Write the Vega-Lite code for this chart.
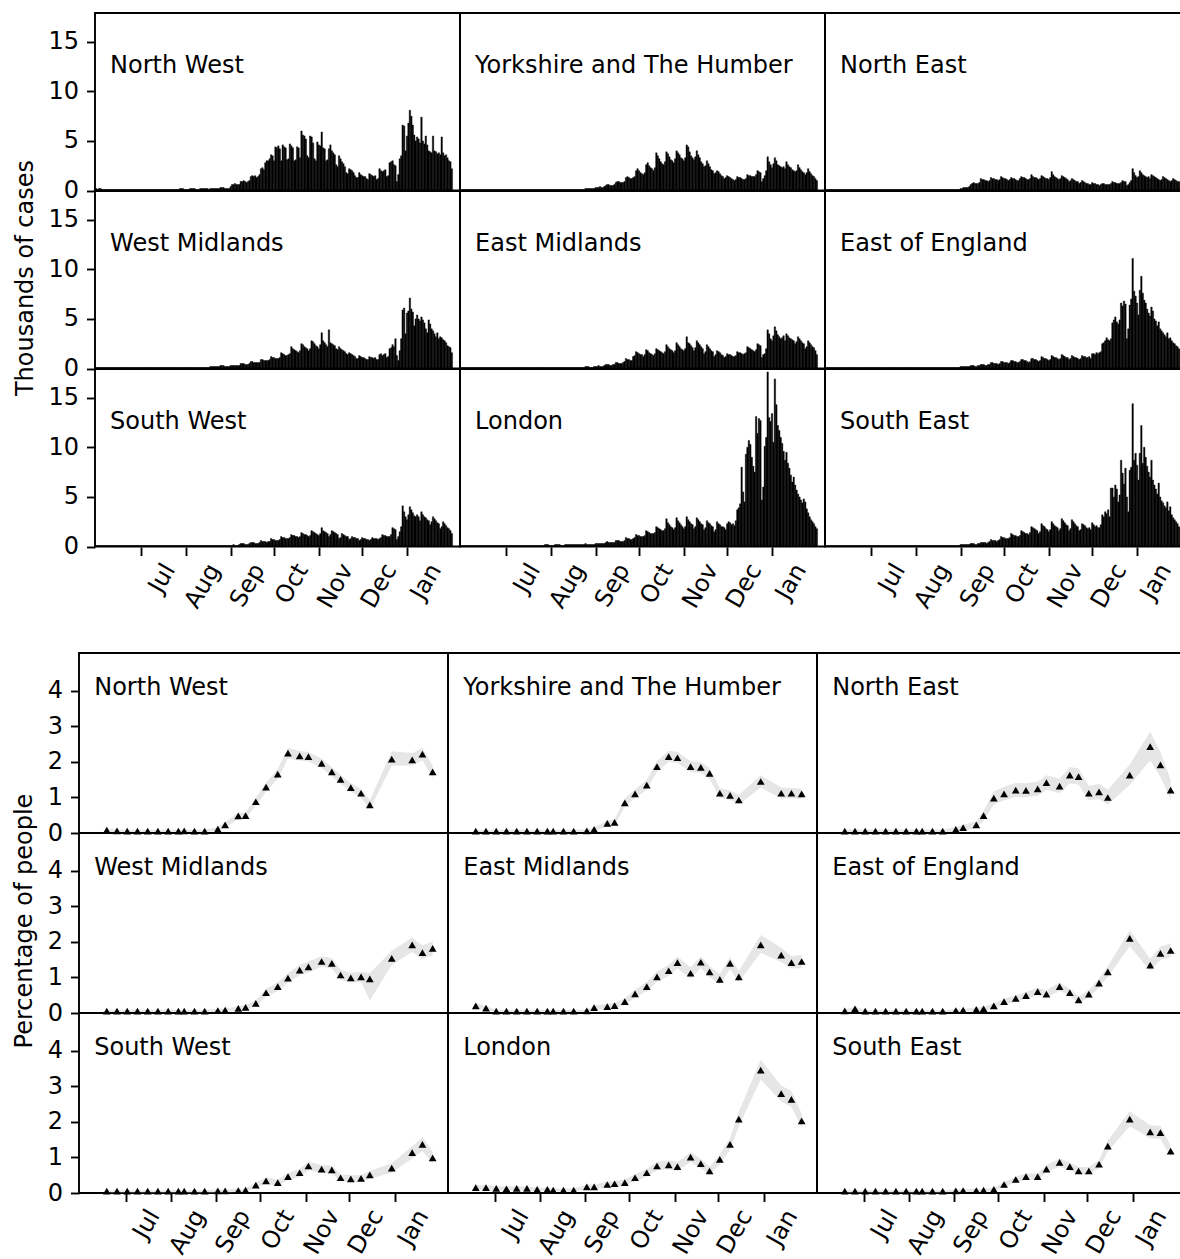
{
"$schema":"https://vega.github.io/schema/vega-lite/v6.json",
"background":"white",
"padding":{"left":12,"top":12,"right":0,"bottom":0},
"spacing":39,
"config":{"font":"DejaVu Sans","view":{"stroke":"black","strokeWidth":1.9},
"axis":{"grid":false,"domain":false,"tickColor":"black","tickWidth":1.9,"tickSize":8.5,"labelFontSize":24,"labelColor":"black","titleFontSize":24,"titleFontWeight":"normal","titleColor":"black","labelFont":"DejaVu Sans","titleFont":"DejaVu Sans"},
"axisX":{"labelAngle":-60,"labelAlign":"right","labelBaseline":"middle","labelOffset":28,"labelPadding":10,"labelFlush":false,"labelOverlap":false,"labelBound":false},
"axisY":{"labelPadding":8,"labelFlush":false,"labelOverlap":false},
"headerFacet":{"labelExpr":"''","labelPadding":0,"labelFontSize":0,"title":null},
"title":{"fontSize":24,"fontWeight":"normal","color":"black","font":"DejaVu Sans"}},
"datasets":{
"names":[{"code":"a","name":"North West"},{"code":"b","name":"Yorkshire and The Humber"},{"code":"c","name":"North East"},{"code":"e","name":"West Midlands"},{"code":"f","name":"East Midlands"},{"code":"g","name":"East of England"},{"code":"h","name":"South West"},{"code":"i","name":"London"},{"code":"j","name":"South East"}],
"cases":[
{"d":"2020-05-30","a":0.2,"b":0.1,"c":0.1,"e":0.1,"f":0.1,"g":0.1,"h":0.1,"i":0.1,"j":0.1},
{"d":"2020-05-31","a":0.1,"b":0.1,"c":0.1,"e":0.1,"f":0.1,"g":0.1,"h":0.1,"i":0.1,"j":0.1},
{"d":"2020-06-01","a":0.2,"b":0.1,"c":0.1,"e":0.1,"f":0.1,"g":0.1,"h":0.1,"i":0.1,"j":0.1},
{"d":"2020-06-02","a":0.2,"b":0.1,"c":0.1,"e":0.1,"f":0.1,"g":0.1,"h":0.1,"i":0.1,"j":0.1},
{"d":"2020-06-03","a":0.1,"b":0.1,"c":0.1,"e":0.1,"f":0.1,"g":0.1,"h":0.1,"i":0.1,"j":0.1},
{"d":"2020-06-04","a":0.1,"b":0.1,"c":0.1,"e":0.1,"f":0.1,"g":0.1,"h":0.1,"i":0.1,"j":0.1},
{"d":"2020-06-05","a":0.1,"b":0.1,"c":0.1,"e":0.1,"f":0.1,"g":0.1,"h":0.1,"i":0.1,"j":0.1},
{"d":"2020-06-06","a":0.1,"b":0.1,"c":0.1,"e":0.1,"f":0.1,"g":0.1,"h":0.1,"i":0.1,"j":0.1},
{"d":"2020-06-07","a":0.1,"b":0.1,"c":0.1,"e":0.1,"f":0.1,"g":0.1,"h":0.1,"i":0.1,"j":0.1},
{"d":"2020-06-08","a":0.1,"b":0.1,"c":0.1,"e":0.1,"f":0.1,"g":0.1,"h":0.1,"i":0.1,"j":0.1},
{"d":"2020-06-09","a":0.1,"b":0.1,"c":0.1,"e":0.1,"f":0.1,"g":0.1,"h":0.1,"i":0.1,"j":0.1},
{"d":"2020-06-10","a":0.1,"b":0.1,"c":0.1,"e":0.1,"f":0.1,"g":0.1,"h":0.1,"i":0.1,"j":0.1},
{"d":"2020-06-11","a":0.1,"b":0.1,"c":0.1,"e":0.1,"f":0.1,"g":0.1,"h":0.1,"i":0.1,"j":0.1},
{"d":"2020-06-12","a":0.1,"b":0.1,"c":0.1,"e":0.1,"f":0.1,"g":0.1,"h":0.1,"i":0.1,"j":0.1},
{"d":"2020-06-13","a":0.1,"b":0.1,"c":0.1,"e":0.1,"f":0.1,"g":0.1,"h":0.1,"i":0.1,"j":0.1},
{"d":"2020-06-14","a":0.1,"b":0.1,"c":0.1,"e":0.1,"f":0.1,"g":0.1,"h":0.1,"i":0.1,"j":0.1},
{"d":"2020-06-15","a":0.1,"b":0.1,"c":0.1,"e":0.1,"f":0.1,"g":0.1,"h":0.1,"i":0.1,"j":0.1},
{"d":"2020-06-16","a":0.1,"b":0.1,"c":0.1,"e":0.1,"f":0.1,"g":0.1,"h":0.1,"i":0.1,"j":0.1},
{"d":"2020-06-17","a":0.1,"b":0.1,"c":0.1,"e":0.1,"f":0.1,"g":0.1,"h":0.1,"i":0.1,"j":0.1},
{"d":"2020-06-18","a":0.1,"b":0.1,"c":0.1,"e":0.1,"f":0.1,"g":0.1,"h":0.1,"i":0.1,"j":0.1},
{"d":"2020-06-19","a":0.1,"b":0.1,"c":0.1,"e":0.1,"f":0.1,"g":0.1,"h":0.1,"i":0.1,"j":0.1},
{"d":"2020-06-20","a":0.1,"b":0.1,"c":0.1,"e":0.1,"f":0.1,"g":0.1,"h":0.1,"i":0.1,"j":0.1},
{"d":"2020-06-21","a":0.1,"b":0.1,"c":0.1,"e":0.1,"f":0.1,"g":0.1,"h":0.1,"i":0.1,"j":0.1},
{"d":"2020-06-22","a":0.1,"b":0.1,"c":0.1,"e":0.1,"f":0.1,"g":0.1,"h":0.1,"i":0.1,"j":0.1},
{"d":"2020-06-23","a":0.1,"b":0.1,"c":0.1,"e":0.1,"f":0.1,"g":0.1,"h":0.1,"i":0.1,"j":0.1},
{"d":"2020-06-24","a":0.1,"b":0.1,"c":0.1,"e":0.1,"f":0.1,"g":0.1,"h":0.1,"i":0.1,"j":0.1},
{"d":"2020-06-25","a":0.1,"b":0.1,"c":0.1,"e":0.1,"f":0.1,"g":0.1,"h":0.1,"i":0.1,"j":0.1},
{"d":"2020-06-26","a":0.1,"b":0.1,"c":0.1,"e":0.1,"f":0.1,"g":0.1,"h":0.1,"i":0.1,"j":0.1},
{"d":"2020-06-27","a":0.1,"b":0.1,"c":0.1,"e":0.1,"f":0.1,"g":0.1,"h":0.1,"i":0.1,"j":0.1},
{"d":"2020-06-28","a":0.1,"b":0.1,"c":0.1,"e":0.1,"f":0.1,"g":0.1,"h":0.1,"i":0.1,"j":0.1},
{"d":"2020-06-29","a":0.1,"b":0.1,"c":0.1,"e":0.1,"f":0.1,"g":0.1,"h":0.1,"i":0.1,"j":0.1},
{"d":"2020-06-30","a":0.1,"b":0.1,"c":0.1,"e":0.1,"f":0.1,"g":0.1,"h":0.1,"i":0.1,"j":0.1},
{"d":"2020-07-01","a":0.1,"b":0.1,"c":0.1,"e":0.1,"f":0.1,"g":0.1,"h":0.1,"i":0.1,"j":0.1},
{"d":"2020-07-02","a":0.1,"b":0.1,"c":0.1,"e":0.1,"f":0.1,"g":0.1,"h":0.1,"i":0.1,"j":0.1},
{"d":"2020-07-03","a":0.1,"b":0.1,"c":0.1,"e":0.1,"f":0.1,"g":0.1,"h":0.1,"i":0.1,"j":0.1},
{"d":"2020-07-04","a":0.1,"b":0.1,"c":0.1,"e":0.1,"f":0.1,"g":0.1,"h":0.1,"i":0.1,"j":0.1},
{"d":"2020-07-05","a":0.1,"b":0.1,"c":0.1,"e":0.1,"f":0.1,"g":0.1,"h":0.1,"i":0.1,"j":0.1},
{"d":"2020-07-06","a":0.1,"b":0.1,"c":0.1,"e":0.1,"f":0.1,"g":0.1,"h":0.1,"i":0.1,"j":0.1},
{"d":"2020-07-07","a":0.1,"b":0.1,"c":0.1,"e":0.1,"f":0.1,"g":0.1,"h":0.1,"i":0.1,"j":0.1},
{"d":"2020-07-08","a":0.1,"b":0.1,"c":0.1,"e":0.1,"f":0.1,"g":0.1,"h":0.1,"i":0.1,"j":0.1},
{"d":"2020-07-09","a":0.1,"b":0.1,"c":0.1,"e":0.1,"f":0.1,"g":0.1,"h":0.1,"i":0.1,"j":0.1},
{"d":"2020-07-10","a":0.1,"b":0.1,"c":0.1,"e":0.1,"f":0.1,"g":0.1,"h":0.1,"i":0.1,"j":0.1},
{"d":"2020-07-11","a":0.1,"b":0.1,"c":0.1,"e":0.1,"f":0.1,"g":0.1,"h":0.1,"i":0.1,"j":0.1},
{"d":"2020-07-12","a":0.1,"b":0.1,"c":0.1,"e":0.1,"f":0.1,"g":0.1,"h":0.1,"i":0.1,"j":0.1},
{"d":"2020-07-13","a":0.1,"b":0.1,"c":0.1,"e":0.1,"f":0.1,"g":0.1,"h":0.1,"i":0.1,"j":0.1},
{"d":"2020-07-14","a":0.1,"b":0.1,"c":0.1,"e":0.1,"f":0.1,"g":0.1,"h":0.1,"i":0.1,"j":0.1},
{"d":"2020-07-15","a":0.1,"b":0.1,"c":0.1,"e":0.1,"f":0.1,"g":0.1,"h":0.1,"i":0.1,"j":0.1},
{"d":"2020-07-16","a":0.1,"b":0.1,"c":0.1,"e":0.1,"f":0.1,"g":0.1,"h":0.1,"i":0.1,"j":0.1},
{"d":"2020-07-17","a":0.1,"b":0.1,"c":0.1,"e":0.1,"f":0.1,"g":0.1,"h":0.1,"i":0.1,"j":0.1},
{"d":"2020-07-18","a":0.1,"b":0.1,"c":0.1,"e":0.1,"f":0.1,"g":0.1,"h":0.1,"i":0.1,"j":0.1},
{"d":"2020-07-19","a":0.1,"b":0.1,"c":0.1,"e":0.1,"f":0.1,"g":0.1,"h":0.1,"i":0.1,"j":0.1},
{"d":"2020-07-20","a":0.1,"b":0.1,"c":0.1,"e":0.1,"f":0.1,"g":0.1,"h":0.1,"i":0.1,"j":0.1},
{"d":"2020-07-21","a":0.1,"b":0.1,"c":0.1,"e":0.1,"f":0.1,"g":0.1,"h":0.1,"i":0.1,"j":0.1},
{"d":"2020-07-22","a":0.1,"b":0.1,"c":0.1,"e":0.1,"f":0.1,"g":0.1,"h":0.1,"i":0.1,"j":0.1},
{"d":"2020-07-23","a":0.1,"b":0.1,"c":0.1,"e":0.1,"f":0.1,"g":0.1,"h":0.1,"i":0.1,"j":0.1},
{"d":"2020-07-24","a":0.1,"b":0.1,"c":0.1,"e":0.1,"f":0.1,"g":0.1,"h":0.1,"i":0.1,"j":0.1},
{"d":"2020-07-25","a":0.1,"b":0.1,"c":0.1,"e":0.1,"f":0.1,"g":0.1,"h":0.1,"i":0.1,"j":0.1},
{"d":"2020-07-26","a":0.1,"b":0.1,"c":0.1,"e":0.1,"f":0.1,"g":0.1,"h":0.1,"i":0.1,"j":0.1},
{"d":"2020-07-27","a":0.2,"b":0.1,"c":0.1,"e":0.1,"f":0.1,"g":0.1,"h":0.1,"i":0.2,"j":0.1},
{"d":"2020-07-28","a":0.2,"b":0.1,"c":0.1,"e":0.1,"f":0.1,"g":0.1,"h":0.1,"i":0.2,"j":0.1},
{"d":"2020-07-29","a":0.2,"b":0.1,"c":0.1,"e":0.1,"f":0.1,"g":0.1,"h":0.1,"i":0.2,"j":0.1},
{"d":"2020-07-30","a":0.1,"b":0.1,"c":0.1,"e":0.1,"f":0.1,"g":0.1,"h":0.1,"i":0.1,"j":0.1},
{"d":"2020-07-31","a":0.1,"b":0.1,"c":0.1,"e":0.1,"f":0.1,"g":0.1,"h":0.1,"i":0.1,"j":0.1},
{"d":"2020-08-01","a":0.1,"b":0.1,"c":0.1,"e":0.1,"f":0.1,"g":0.1,"h":0.1,"i":0.1,"j":0.1},
{"d":"2020-08-02","a":0.1,"b":0.1,"c":0.1,"e":0.1,"f":0.1,"g":0.1,"h":0.1,"i":0.1,"j":0.1},
{"d":"2020-08-03","a":0.2,"b":0.1,"c":0.1,"e":0.1,"f":0.1,"g":0.1,"h":0.1,"i":0.2,"j":0.1},
{"d":"2020-08-04","a":0.2,"b":0.1,"c":0.1,"e":0.1,"f":0.1,"g":0.1,"h":0.1,"i":0.2,"j":0.1},
{"d":"2020-08-05","a":0.2,"b":0.1,"c":0.1,"e":0.1,"f":0.1,"g":0.1,"h":0.1,"i":0.2,"j":0.1},
{"d":"2020-08-06","a":0.2,"b":0.1,"c":0.1,"e":0.1,"f":0.1,"g":0.1,"h":0.1,"i":0.2,"j":0.1},
{"d":"2020-08-07","a":0.1,"b":0.1,"c":0.1,"e":0.1,"f":0.1,"g":0.1,"h":0.1,"i":0.1,"j":0.1},
{"d":"2020-08-08","a":0.1,"b":0.1,"c":0.1,"e":0.1,"f":0.1,"g":0.1,"h":0.1,"i":0.1,"j":0.1},
{"d":"2020-08-09","a":0.1,"b":0.1,"c":0.1,"e":0.1,"f":0.1,"g":0.1,"h":0.1,"i":0.1,"j":0.1},
{"d":"2020-08-10","a":0.2,"b":0.1,"c":0.1,"e":0.1,"f":0.1,"g":0.1,"h":0.1,"i":0.2,"j":0.1},
{"d":"2020-08-11","a":0.2,"b":0.1,"c":0.1,"e":0.1,"f":0.1,"g":0.1,"h":0.1,"i":0.2,"j":0.1},
{"d":"2020-08-12","a":0.2,"b":0.1,"c":0.1,"e":0.1,"f":0.1,"g":0.1,"h":0.1,"i":0.2,"j":0.1},
{"d":"2020-08-13","a":0.2,"b":0.1,"c":0.1,"e":0.1,"f":0.1,"g":0.1,"h":0.1,"i":0.2,"j":0.1},
{"d":"2020-08-14","a":0.2,"b":0.1,"c":0.1,"e":0.1,"f":0.1,"g":0.1,"h":0.1,"i":0.2,"j":0.1},
{"d":"2020-08-15","a":0.2,"b":0.1,"c":0.1,"e":0.1,"f":0.1,"g":0.1,"h":0.1,"i":0.2,"j":0.1},
{"d":"2020-08-16","a":0.1,"b":0.1,"c":0.1,"e":0.1,"f":0.1,"g":0.1,"h":0.1,"i":0.2,"j":0.1},
{"d":"2020-08-17","a":0.2,"b":0.1,"c":0.1,"e":0.2,"f":0.1,"g":0.1,"h":0.1,"i":0.2,"j":0.1},
{"d":"2020-08-18","a":0.2,"b":0.1,"c":0.1,"e":0.2,"f":0.1,"g":0.1,"h":0.1,"i":0.2,"j":0.1},
{"d":"2020-08-19","a":0.2,"b":0.1,"c":0.1,"e":0.2,"f":0.1,"g":0.1,"h":0.1,"i":0.2,"j":0.1},
{"d":"2020-08-20","a":0.2,"b":0.1,"c":0.1,"e":0.2,"f":0.1,"g":0.1,"h":0.1,"i":0.2,"j":0.1},
{"d":"2020-08-21","a":0.2,"b":0.1,"c":0.1,"e":0.2,"f":0.1,"g":0.1,"h":0.1,"i":0.2,"j":0.1},
{"d":"2020-08-22","a":0.2,"b":0.1,"c":0.1,"e":0.2,"f":0.1,"g":0.1,"h":0.1,"i":0.2,"j":0.1},
{"d":"2020-08-23","a":0.2,"b":0.1,"c":0.1,"e":0.2,"f":0.1,"g":0.1,"h":0.1,"i":0.2,"j":0.1},
{"d":"2020-08-24","a":0.3,"b":0.2,"c":0.1,"e":0.3,"f":0.2,"g":0.1,"h":0.1,"i":0.3,"j":0.1},
{"d":"2020-08-25","a":0.3,"b":0.2,"c":0.1,"e":0.3,"f":0.2,"g":0.1,"h":0.1,"i":0.2,"j":0.1},
{"d":"2020-08-26","a":0.3,"b":0.2,"c":0.1,"e":0.3,"f":0.2,"g":0.1,"h":0.1,"i":0.2,"j":0.1},
{"d":"2020-08-27","a":0.2,"b":0.2,"c":0.1,"e":0.2,"f":0.1,"g":0.1,"h":0.1,"i":0.2,"j":0.1},
{"d":"2020-08-28","a":0.2,"b":0.2,"c":0.1,"e":0.2,"f":0.1,"g":0.1,"h":0.1,"i":0.2,"j":0.1},
{"d":"2020-08-29","a":0.2,"b":0.2,"c":0.1,"e":0.2,"f":0.1,"g":0.1,"h":0.1,"i":0.2,"j":0.1},
{"d":"2020-08-30","a":0.2,"b":0.2,"c":0.1,"e":0.2,"f":0.2,"g":0.1,"h":0.1,"i":0.2,"j":0.1},
{"d":"2020-08-31","a":0.4,"b":0.3,"c":0.2,"e":0.3,"f":0.2,"g":0.2,"h":0.1,"i":0.3,"j":0.2},
{"d":"2020-09-01","a":0.6,"b":0.3,"c":0.2,"e":0.3,"f":0.2,"g":0.2,"h":0.1,"i":0.3,"j":0.2},
{"d":"2020-09-02","a":0.6,"b":0.3,"c":0.3,"e":0.3,"f":0.3,"g":0.2,"h":0.2,"i":0.3,"j":0.2},
{"d":"2020-09-03","a":0.7,"b":0.4,"c":0.3,"e":0.3,"f":0.2,"g":0.2,"h":0.1,"i":0.3,"j":0.2},
{"d":"2020-09-04","a":0.6,"b":0.3,"c":0.3,"e":0.3,"f":0.2,"g":0.2,"h":0.1,"i":0.3,"j":0.2},
{"d":"2020-09-05","a":0.6,"b":0.3,"c":0.3,"e":0.3,"f":0.2,"g":0.2,"h":0.1,"i":0.3,"j":0.2},
{"d":"2020-09-06","a":0.6,"b":0.4,"c":0.4,"e":0.3,"f":0.3,"g":0.2,"h":0.2,"i":0.3,"j":0.2},
{"d":"2020-09-07","a":0.9,"b":0.5,"c":0.6,"e":0.5,"f":0.4,"g":0.3,"h":0.3,"i":0.4,"j":0.3},
{"d":"2020-09-08","a":0.9,"b":0.6,"c":0.7,"e":0.5,"f":0.4,"g":0.3,"h":0.3,"i":0.5,"j":0.3},
{"d":"2020-09-09","a":1.0,"b":0.6,"c":0.8,"e":0.5,"f":0.4,"g":0.3,"h":0.3,"i":0.4,"j":0.3},
{"d":"2020-09-10","a":0.9,"b":0.5,"c":0.7,"e":0.4,"f":0.3,"g":0.2,"h":0.2,"i":0.4,"j":0.2},
{"d":"2020-09-11","a":0.8,"b":0.5,"c":0.7,"e":0.4,"f":0.3,"g":0.2,"h":0.2,"i":0.4,"j":0.2},
{"d":"2020-09-12","a":0.9,"b":0.5,"c":0.7,"e":0.4,"f":0.4,"g":0.3,"h":0.2,"i":0.4,"j":0.3},
{"d":"2020-09-13","a":1.0,"b":0.6,"c":0.8,"e":0.5,"f":0.4,"g":0.3,"h":0.3,"i":0.4,"j":0.3},
{"d":"2020-09-14","a":1.4,"b":0.8,"c":1.2,"e":0.7,"f":0.6,"g":0.4,"h":0.4,"i":0.6,"j":0.4},
{"d":"2020-09-15","a":1.5,"b":0.9,"c":1.1,"e":0.7,"f":0.6,"g":0.4,"h":0.4,"i":0.6,"j":0.4},
{"d":"2020-09-16","a":1.4,"b":0.9,"c":1.1,"e":0.6,"f":0.5,"g":0.4,"h":0.4,"i":0.6,"j":0.4},
{"d":"2020-09-17","a":1.5,"b":0.8,"c":1.0,"e":0.6,"f":0.5,"g":0.3,"h":0.3,"i":0.5,"j":0.4},
{"d":"2020-09-18","a":1.3,"b":0.8,"c":1.0,"e":0.6,"f":0.5,"g":0.3,"h":0.3,"i":0.5,"j":0.3},
{"d":"2020-09-19","a":1.4,"b":0.8,"c":0.9,"e":0.6,"f":0.6,"g":0.4,"h":0.3,"i":0.5,"j":0.4},
{"d":"2020-09-20","a":1.6,"b":0.9,"c":1.0,"e":0.6,"f":0.7,"g":0.4,"h":0.4,"i":0.6,"j":0.5},
{"d":"2020-09-21","a":2.2,"b":1.3,"c":1.3,"e":0.9,"f":1.0,"g":0.6,"h":0.6,"i":0.9,"j":0.7},
{"d":"2020-09-22","a":2.3,"b":1.4,"c":1.2,"e":0.9,"f":0.9,"g":0.6,"h":0.5,"i":0.8,"j":0.6},
{"d":"2020-09-23","a":2.1,"b":1.3,"c":1.2,"e":0.8,"f":0.9,"g":0.5,"h":0.5,"i":0.8,"j":0.6},
{"d":"2020-09-24","a":2.8,"b":1.2,"c":1.1,"e":0.8,"f":0.8,"g":0.5,"h":0.5,"i":0.7,"j":0.6},
{"d":"2020-09-25","a":3.0,"b":1.2,"c":1.1,"e":0.8,"f":0.8,"g":0.5,"h":0.4,"i":0.7,"j":0.5},
{"d":"2020-09-26","a":3.0,"b":1.3,"c":1.0,"e":0.8,"f":1.2,"g":0.4,"h":0.5,"i":0.8,"j":0.6},
{"d":"2020-09-27","a":3.2,"b":1.4,"c":1.1,"e":0.9,"f":1.3,"g":0.5,"h":0.5,"i":0.9,"j":0.7},
{"d":"2020-09-28","a":3.6,"b":2.0,"c":1.4,"e":1.2,"f":1.7,"g":0.7,"h":0.8,"i":1.2,"j":1.0},
{"d":"2020-09-29","a":3.5,"b":2.2,"c":1.3,"e":1.1,"f":1.6,"g":0.7,"h":0.7,"i":1.1,"j":0.9},
{"d":"2020-09-30","a":3.0,"b":2.0,"c":1.2,"e":1.1,"f":1.5,"g":0.6,"h":0.7,"i":1.1,"j":0.9},
{"d":"2020-10-01","a":4.4,"b":1.8,"c":1.2,"e":1.0,"f":1.4,"g":0.6,"h":0.6,"i":1.0,"j":0.8},
{"d":"2020-10-02","a":4.3,"b":1.7,"c":1.1,"e":1.0,"f":1.4,"g":0.6,"h":0.6,"i":1.0,"j":0.8},
{"d":"2020-10-03","a":4.5,"b":1.6,"c":1.0,"e":1.0,"f":1.2,"g":0.5,"h":0.6,"i":1.0,"j":0.8},
{"d":"2020-10-04","a":4.2,"b":1.8,"c":1.1,"e":1.1,"f":1.4,"g":0.6,"h":0.7,"i":1.1,"j":0.9},
{"d":"2020-10-05","a":3.0,"b":2.6,"c":1.3,"e":1.6,"f":1.9,"g":0.8,"h":1.0,"i":1.6,"j":1.3},
{"d":"2020-10-06","a":4.6,"b":2.8,"c":1.2,"e":1.5,"f":1.8,"g":0.8,"h":0.9,"i":1.5,"j":1.2},
{"d":"2020-10-07","a":4.4,"b":2.5,"c":1.2,"e":1.4,"f":1.6,"g":0.7,"h":0.9,"i":1.4,"j":1.1},
{"d":"2020-10-08","a":4.3,"b":2.3,"c":1.1,"e":1.3,"f":1.5,"g":0.7,"h":0.8,"i":1.3,"j":1.1},
{"d":"2020-10-09","a":3.1,"b":2.2,"c":1.0,"e":1.3,"f":1.4,"g":0.6,"h":0.8,"i":1.3,"j":1.0},
{"d":"2020-10-10","a":3.2,"b":2.0,"c":1.0,"e":1.4,"f":1.3,"g":0.6,"h":0.8,"i":1.3,"j":1.0},
{"d":"2020-10-11","a":4.7,"b":2.3,"c":1.2,"e":1.5,"f":1.5,"g":0.7,"h":0.9,"i":1.4,"j":1.1},
{"d":"2020-10-12","a":4.5,"b":3.8,"c":1.4,"e":2.2,"f":2.0,"g":0.9,"h":1.2,"i":2.0,"j":1.6},
{"d":"2020-10-13","a":4.3,"b":3.5,"c":1.3,"e":2.0,"f":1.9,"g":0.9,"h":1.1,"i":1.9,"j":1.5},
{"d":"2020-10-14","a":3.0,"b":3.2,"c":1.3,"e":1.9,"f":1.8,"g":0.8,"h":1.1,"i":1.8,"j":1.4},
{"d":"2020-10-15","a":3.1,"b":2.9,"c":1.2,"e":1.8,"f":1.7,"g":0.8,"h":1.0,"i":1.7,"j":1.3},
{"d":"2020-10-16","a":4.4,"b":2.7,"c":1.1,"e":1.7,"f":1.6,"g":0.7,"h":1.0,"i":1.6,"j":1.3},
{"d":"2020-10-17","a":4.3,"b":2.6,"c":1.1,"e":1.6,"f":1.5,"g":0.6,"h":0.9,"i":1.6,"j":1.2},
{"d":"2020-10-18","a":3.3,"b":2.9,"c":1.2,"e":1.8,"f":1.7,"g":0.7,"h":1.0,"i":1.8,"j":1.4},
{"d":"2020-10-19","a":6.0,"b":3.9,"c":1.6,"e":2.5,"f":2.4,"g":1.0,"h":1.4,"i":2.8,"j":2.0},
{"d":"2020-10-20","a":5.6,"b":3.7,"c":1.4,"e":2.4,"f":2.2,"g":1.0,"h":1.3,"i":2.4,"j":1.9},
{"d":"2020-10-21","a":5.5,"b":3.4,"c":1.3,"e":2.2,"f":2.0,"g":0.9,"h":1.2,"i":2.2,"j":1.8},
{"d":"2020-10-22","a":5.2,"b":3.1,"c":1.3,"e":2.1,"f":1.9,"g":0.9,"h":1.2,"i":2.0,"j":1.7},
{"d":"2020-10-23","a":3.5,"b":3.0,"c":1.2,"e":2.0,"f":1.8,"g":0.8,"h":1.1,"i":1.9,"j":1.6},
{"d":"2020-10-24","a":3.3,"b":2.8,"c":1.1,"e":1.8,"f":1.6,"g":0.7,"h":1.0,"i":1.7,"j":1.3},
{"d":"2020-10-25","a":5.5,"b":3.2,"c":1.2,"e":2.0,"f":1.8,"g":0.8,"h":1.1,"i":1.9,"j":1.5},
{"d":"2020-10-26","a":5.4,"b":4.0,"c":1.5,"e":2.8,"f":2.6,"g":1.2,"h":1.6,"i":2.9,"j":2.3},
{"d":"2020-10-27","a":4.8,"b":3.8,"c":1.4,"e":2.7,"f":2.4,"g":1.1,"h":1.5,"i":2.6,"j":2.1},
{"d":"2020-10-28","a":3.2,"b":3.6,"c":1.3,"e":2.5,"f":2.2,"g":1.0,"h":1.4,"i":2.4,"j":2.0},
{"d":"2020-10-29","a":3.0,"b":3.3,"c":1.2,"e":2.3,"f":2.0,"g":1.0,"h":1.3,"i":2.2,"j":1.8},
{"d":"2020-10-30","a":4.9,"b":3.2,"c":1.2,"e":2.2,"f":1.9,"g":0.9,"h":1.2,"i":2.0,"j":1.7},
{"d":"2020-10-31","a":4.6,"b":3.0,"c":1.1,"e":2.0,"f":1.8,"g":0.8,"h":1.1,"i":1.8,"j":1.5},
{"d":"2020-11-01","a":4.5,"b":3.3,"c":1.3,"e":2.4,"f":2.0,"g":0.9,"h":1.3,"i":2.0,"j":1.7},
{"d":"2020-11-02","a":5.9,"b":4.6,"c":1.9,"e":3.6,"f":3.2,"g":1.3,"h":1.9,"i":3.0,"j":2.5},
{"d":"2020-11-03","a":4.3,"b":4.4,"c":1.6,"e":2.8,"f":2.6,"g":1.2,"h":1.6,"i":2.7,"j":2.3},
{"d":"2020-11-04","a":4.2,"b":3.9,"c":1.4,"e":2.6,"f":2.5,"g":1.1,"h":1.5,"i":2.5,"j":2.1},
{"d":"2020-11-05","a":3.0,"b":3.5,"c":1.3,"e":2.4,"f":2.3,"g":1.1,"h":1.4,"i":2.3,"j":2.0},
{"d":"2020-11-06","a":3.1,"b":3.3,"c":1.2,"e":2.2,"f":2.1,"g":1.0,"h":1.3,"i":2.2,"j":1.9},
{"d":"2020-11-07","a":4.2,"b":3.1,"c":1.1,"e":3.9,"f":1.8,"g":0.9,"h":1.0,"i":1.8,"j":1.6},
{"d":"2020-11-08","a":4.6,"b":3.4,"c":1.2,"e":2.6,"f":2.1,"g":1.0,"h":1.2,"i":2.0,"j":1.8},
{"d":"2020-11-09","a":4.0,"b":4.0,"c":1.5,"e":2.5,"f":2.8,"g":1.4,"h":1.6,"i":2.9,"j":2.8},
{"d":"2020-11-10","a":3.8,"b":3.6,"c":1.4,"e":2.4,"f":2.6,"g":1.3,"h":1.5,"i":2.7,"j":2.6},
{"d":"2020-11-11","a":3.6,"b":3.3,"c":1.3,"e":2.3,"f":2.4,"g":1.2,"h":1.4,"i":2.5,"j":2.4},
{"d":"2020-11-12","a":2.6,"b":2.9,"c":1.2,"e":2.0,"f":2.2,"g":1.1,"h":1.3,"i":2.3,"j":2.2},
{"d":"2020-11-13","a":2.4,"b":2.7,"c":1.1,"e":1.9,"f":2.0,"g":1.1,"h":1.2,"i":2.2,"j":2.1},
{"d":"2020-11-14","a":3.5,"b":2.4,"c":0.9,"e":2.2,"f":1.5,"g":0.9,"h":0.8,"i":1.7,"j":1.6},
{"d":"2020-11-15","a":3.2,"b":2.5,"c":1.0,"e":2.0,"f":1.7,"g":1.0,"h":0.9,"i":1.9,"j":1.8},
{"d":"2020-11-16","a":2.9,"b":3.0,"c":1.2,"e":1.9,"f":2.4,"g":1.3,"h":1.3,"i":2.6,"j":2.7},
{"d":"2020-11-17","a":2.7,"b":2.7,"c":1.1,"e":1.8,"f":2.2,"g":1.2,"h":1.2,"i":2.4,"j":2.5},
{"d":"2020-11-18","a":2.4,"b":2.4,"c":1.0,"e":1.7,"f":2.0,"g":1.1,"h":1.1,"i":2.3,"j":2.3},
{"d":"2020-11-19","a":1.8,"b":2.1,"c":0.9,"e":1.5,"f":1.8,"g":1.1,"h":1.0,"i":2.1,"j":2.1},
{"d":"2020-11-20","a":1.7,"b":2.0,"c":0.9,"e":1.4,"f":1.7,"g":1.0,"h":1.0,"i":2.0,"j":2.0},
{"d":"2020-11-21","a":2.2,"b":1.7,"c":0.7,"e":1.6,"f":1.2,"g":0.9,"h":0.7,"i":1.5,"j":1.6},
{"d":"2020-11-22","a":2.1,"b":1.8,"c":0.8,"e":1.5,"f":1.4,"g":1.0,"h":0.8,"i":1.7,"j":1.7},
{"d":"2020-11-23","a":2.0,"b":2.0,"c":1.0,"e":1.4,"f":1.8,"g":1.3,"h":1.0,"i":2.5,"j":2.3},
{"d":"2020-11-24","a":1.8,"b":1.9,"c":0.9,"e":1.3,"f":1.7,"g":1.2,"h":0.9,"i":2.3,"j":2.2},
{"d":"2020-11-25","a":1.5,"b":1.7,"c":0.8,"e":1.2,"f":1.6,"g":1.2,"h":0.9,"i":2.2,"j":2.1},
{"d":"2020-11-26","a":1.3,"b":1.5,"c":0.7,"e":1.0,"f":1.4,"g":1.1,"h":0.8,"i":2.0,"j":1.9},
{"d":"2020-11-27","a":1.3,"b":1.4,"c":0.7,"e":1.0,"f":1.3,"g":1.1,"h":0.8,"i":2.0,"j":1.8},
{"d":"2020-11-28","a":1.8,"b":1.2,"c":0.6,"e":1.3,"f":1.1,"g":1.2,"h":0.6,"i":1.9,"j":1.9},
{"d":"2020-11-29","a":1.6,"b":1.3,"c":0.6,"e":1.2,"f":1.2,"g":1.0,"h":0.7,"i":1.7,"j":1.7},
{"d":"2020-11-30","a":1.5,"b":1.5,"c":0.8,"e":1.1,"f":1.5,"g":1.5,"h":0.9,"i":2.3,"j":2.4},
{"d":"2020-12-01","a":1.4,"b":1.4,"c":0.7,"e":1.1,"f":1.4,"g":1.5,"h":0.8,"i":2.5,"j":2.2},
{"d":"2020-12-02","a":1.4,"b":1.3,"c":0.7,"e":1.0,"f":1.4,"g":1.4,"h":0.8,"i":2.4,"j":2.0},
{"d":"2020-12-03","a":1.2,"b":1.2,"c":0.6,"e":0.9,"f":1.3,"g":1.6,"h":0.7,"i":2.2,"j":2.1},
{"d":"2020-12-04","a":1.1,"b":1.1,"c":0.6,"e":0.9,"f":1.2,"g":1.5,"h":0.7,"i":2.3,"j":1.9},
{"d":"2020-12-05","a":1.7,"b":1.0,"c":0.5,"e":1.2,"f":1.2,"g":1.6,"h":0.6,"i":2.1,"j":1.9},
{"d":"2020-12-06","a":1.6,"b":1.1,"c":0.6,"e":1.1,"f":1.3,"g":1.7,"h":0.7,"i":2.6,"j":2.2},
{"d":"2020-12-07","a":1.5,"b":1.4,"c":0.7,"e":1.1,"f":1.7,"g":2.5,"h":0.9,"i":3.7,"j":3.2},
{"d":"2020-12-08","a":1.4,"b":1.3,"c":0.7,"e":1.0,"f":1.6,"g":2.6,"h":0.8,"i":3.9,"j":3.0},
{"d":"2020-12-09","a":1.5,"b":1.3,"c":0.6,"e":1.1,"f":1.6,"g":2.8,"h":0.8,"i":4.3,"j":3.5},
{"d":"2020-12-10","a":1.1,"b":1.2,"c":0.6,"e":0.9,"f":1.5,"g":3.1,"h":0.8,"i":8.0,"j":3.3},
{"d":"2020-12-11","a":1.2,"b":1.1,"c":0.6,"e":0.9,"f":1.4,"g":2.9,"h":0.7,"i":5.5,"j":3.7},
{"d":"2020-12-12","a":2.2,"b":1.1,"c":0.6,"e":1.4,"f":1.5,"g":2.8,"h":0.8,"i":4.5,"j":3.0},
{"d":"2020-12-13","a":2.0,"b":1.2,"c":0.7,"e":1.5,"f":1.6,"g":3.0,"h":0.9,"i":9.3,"j":5.9},
{"d":"2020-12-14","a":1.9,"b":1.6,"c":0.9,"e":1.3,"f":2.2,"g":4.6,"h":1.2,"i":10.0,"j":5.9},
{"d":"2020-12-15","a":2.0,"b":1.5,"c":0.8,"e":1.4,"f":2.1,"g":4.9,"h":1.1,"i":10.7,"j":5.0},
{"d":"2020-12-16","a":2.1,"b":1.5,"c":0.8,"e":1.5,"f":2.0,"g":5.2,"h":1.1,"i":10.3,"j":6.2},
{"d":"2020-12-17","a":1.4,"b":1.4,"c":0.7,"e":1.1,"f":1.9,"g":4.7,"h":1.0,"i":9.0,"j":5.8},
{"d":"2020-12-18","a":1.5,"b":1.4,"c":0.7,"e":1.2,"f":1.8,"g":4.5,"h":1.0,"i":8.1,"j":4.5},
{"d":"2020-12-19","a":2.8,"b":1.4,"c":0.7,"e":2.0,"f":1.7,"g":4.9,"h":1.0,"i":7.5,"j":5.2},
{"d":"2020-12-20","a":2.9,"b":1.6,"c":0.8,"e":2.1,"f":1.9,"g":6.6,"h":1.2,"i":13.1,"j":8.7},
{"d":"2020-12-21","a":3.0,"b":2.0,"c":1.0,"e":2.4,"f":2.5,"g":6.3,"h":1.9,"i":11.4,"j":7.4},
{"d":"2020-12-22","a":2.6,"b":1.9,"c":0.9,"e":2.2,"f":2.4,"g":6.8,"h":1.8,"i":12.9,"j":6.3},
{"d":"2020-12-23","a":2.5,"b":1.8,"c":0.9,"e":3.0,"f":2.3,"g":6.5,"h":1.7,"i":12.7,"j":7.9},
{"d":"2020-12-24","a":0.9,"b":0.9,"c":0.5,"e":1.3,"f":1.1,"g":3.0,"h":0.7,"i":4.7,"j":5.0},
{"d":"2020-12-25","a":1.6,"b":1.2,"c":0.6,"e":0.8,"f":1.4,"g":4.0,"h":1.0,"i":6.0,"j":3.5},
{"d":"2020-12-26","a":3.2,"b":1.5,"c":0.8,"e":1.8,"f":1.5,"g":6.4,"h":1.5,"i":10.1,"j":7.7},
{"d":"2020-12-27","a":3.5,"b":2.0,"c":1.0,"e":3.0,"f":2.0,"g":7.0,"h":2.0,"i":11.0,"j":8.0},
{"d":"2020-12-28","a":6.6,"b":3.4,"c":2.2,"e":5.9,"f":3.9,"g":11.1,"h":4.1,"i":17.6,"j":14.4},
{"d":"2020-12-29","a":6.5,"b":2.9,"c":1.8,"e":6.1,"f":3.5,"g":7.8,"h":3.5,"i":13.0,"j":8.7},
{"d":"2020-12-30","a":4.0,"b":2.6,"c":1.5,"e":3.5,"f":3.0,"g":7.3,"h":3.0,"i":12.6,"j":9.4},
{"d":"2020-12-31","a":5.5,"b":2.3,"c":1.3,"e":5.6,"f":2.8,"g":6.6,"h":2.7,"i":13.4,"j":8.2},
{"d":"2021-01-01","a":6.8,"b":2.7,"c":1.4,"e":5.8,"f":3.3,"g":5.4,"h":3.2,"i":10.5,"j":6.7},
{"d":"2021-01-02","a":8.1,"b":3.3,"c":2.0,"e":7.1,"f":4.2,"g":7.9,"h":4.0,"i":16.9,"j":9.4},
{"d":"2021-01-03","a":7.5,"b":3.0,"c":1.8,"e":6.0,"f":3.8,"g":9.3,"h":3.7,"i":14.3,"j":12.2},
{"d":"2021-01-04","a":6.6,"b":2.6,"c":1.6,"e":5.7,"f":3.4,"g":7.6,"h":3.4,"i":12.2,"j":8.4},
{"d":"2021-01-05","a":5.6,"b":2.5,"c":1.5,"e":4.3,"f":3.2,"g":6.9,"h":3.1,"i":11.7,"j":10.0},
{"d":"2021-01-06","a":5.0,"b":2.4,"c":1.4,"e":5.0,"f":3.0,"g":6.6,"h":3.0,"i":11.0,"j":9.0},
{"d":"2021-01-07","a":5.4,"b":2.3,"c":1.3,"e":5.4,"f":3.1,"g":6.0,"h":3.2,"i":10.4,"j":8.1},
{"d":"2021-01-08","a":5.2,"b":2.4,"c":1.4,"e":5.0,"f":3.3,"g":5.6,"h":3.0,"i":9.6,"j":7.5},
{"d":"2021-01-09","a":4.8,"b":2.2,"c":1.2,"e":4.8,"f":2.8,"g":5.3,"h":2.6,"i":8.7,"j":7.0},
{"d":"2021-01-10","a":7.4,"b":2.9,"c":1.6,"e":5.2,"f":3.5,"g":6.2,"h":3.5,"i":9.5,"j":8.7},
{"d":"2021-01-11","a":5.0,"b":2.6,"c":1.5,"e":4.9,"f":3.3,"g":5.8,"h":3.2,"i":8.4,"j":6.7},
{"d":"2021-01-12","a":4.7,"b":2.4,"c":1.4,"e":4.6,"f":3.1,"g":5.0,"h":3.0,"i":7.9,"j":6.2},
{"d":"2021-01-13","a":5.5,"b":2.3,"c":1.3,"e":4.0,"f":3.0,"g":4.8,"h":2.9,"i":7.2,"j":5.8},
{"d":"2021-01-14","a":4.6,"b":2.1,"c":1.2,"e":3.6,"f":2.9,"g":4.3,"h":2.7,"i":6.5,"j":5.3},
{"d":"2021-01-15","a":4.0,"b":2.0,"c":1.1,"e":4.9,"f":2.8,"g":4.7,"h":2.6,"i":7.0,"j":6.4},
{"d":"2021-01-16","a":3.9,"b":1.9,"c":1.0,"e":4.5,"f":2.5,"g":4.0,"h":2.2,"i":6.2,"j":5.0},
{"d":"2021-01-17","a":3.8,"b":2.0,"c":1.1,"e":4.0,"f":2.7,"g":3.8,"h":2.5,"i":5.7,"j":4.6},
{"d":"2021-01-18","a":5.5,"b":2.6,"c":1.4,"e":3.8,"f":3.2,"g":3.6,"h":3.0,"i":5.3,"j":4.4},
{"d":"2021-01-19","a":4.0,"b":2.3,"c":1.3,"e":3.5,"f":3.0,"g":3.4,"h":2.8,"i":5.0,"j":4.1},
{"d":"2021-01-20","a":3.9,"b":2.1,"c":1.2,"e":3.2,"f":2.8,"g":3.2,"h":2.6,"i":4.7,"j":3.9},
{"d":"2021-01-21","a":3.7,"b":1.9,"c":1.1,"e":3.6,"f":2.6,"g":3.6,"h":2.4,"i":4.4,"j":4.5},
{"d":"2021-01-22","a":3.8,"b":1.8,"c":1.0,"e":3.0,"f":2.5,"g":3.0,"h":2.3,"i":4.8,"j":3.6},
{"d":"2021-01-23","a":3.6,"b":1.6,"c":0.9,"e":3.2,"f":2.0,"g":3.1,"h":1.8,"i":4.5,"j":4.0},
{"d":"2021-01-24","a":5.4,"b":1.8,"c":1.0,"e":3.1,"f":2.2,"g":2.8,"h":2.0,"i":3.8,"j":3.2},
{"d":"2021-01-25","a":3.8,"b":2.2,"c":1.2,"e":2.9,"f":2.8,"g":2.6,"h":2.5,"i":3.4,"j":2.9},
{"d":"2021-01-26","a":3.5,"b":1.9,"c":1.1,"e":2.8,"f":2.6,"g":2.5,"h":2.3,"i":3.0,"j":2.7},
{"d":"2021-01-27","a":3.6,"b":1.7,"c":1.0,"e":2.6,"f":2.4,"g":2.3,"h":2.1,"i":2.7,"j":2.5},
{"d":"2021-01-28","a":3.3,"b":1.5,"c":0.9,"e":2.3,"f":2.2,"g":2.2,"h":1.9,"i":2.5,"j":2.3},
{"d":"2021-01-29","a":3.0,"b":1.4,"c":0.9,"e":2.2,"f":2.1,"g":2.0,"h":1.8,"i":2.3,"j":2.0},
{"d":"2021-01-30","a":2.9,"b":1.2,"c":0.8,"e":2.1,"f":1.8,"g":1.9,"h":1.6,"i":2.0,"j":1.9},
{"d":"2021-01-31","a":2.2,"b":1.0,"c":0.6,"e":1.6,"f":1.4,"g":1.7,"h":1.3,"i":1.8,"j":1.7}
],
"pos":[
{"r":"a","d":"2020-06-18","v":0.08,"l":0.03,"h":0.13},{"r":"a","d":"2020-06-25","v":0.06,"l":0.02,"h":0.1},{"r":"a","d":"2020-07-02","v":0.05,"l":0.02,"h":0.09},{"r":"a","d":"2020-07-09","v":0.05,"l":0.02,"h":0.09},{"r":"a","d":"2020-07-16","v":0.05,"l":0.02,"h":0.09},{"r":"a","d":"2020-07-23","v":0.05,"l":0.02,"h":0.09},{"r":"a","d":"2020-07-30","v":0.05,"l":0.02,"h":0.09},{"r":"a","d":"2020-08-06","v":0.05,"l":0.02,"h":0.09},{"r":"a","d":"2020-08-10","v":0.06,"l":0.02,"h":0.1},{"r":"a","d":"2020-08-17","v":0.05,"l":0.02,"h":0.09},{"r":"a","d":"2020-08-24","v":0.05,"l":0.02,"h":0.09},
{"r":"a","d":"2020-09-02","v":0.11,"l":0.06,"h":0.17},{"r":"a","d":"2020-09-07","v":0.23,"l":0.16,"h":0.3},{"r":"a","d":"2020-09-16","v":0.48,"l":0.39,"h":0.57},{"r":"a","d":"2020-09-21","v":0.49,"l":0.4,"h":0.58},{"r":"a","d":"2020-09-28","v":0.88,"l":0.77,"h":0.99},{"r":"a","d":"2020-10-05","v":1.29,"l":1.16,"h":1.42},{"r":"a","d":"2020-10-13","v":1.66,"l":1.52,"h":1.8},{"r":"a","d":"2020-10-20","v":2.25,"l":2.1,"h":2.4},{"r":"a","d":"2020-10-28","v":2.17,"l":2.04,"h":2.31},{"r":"a","d":"2020-11-03","v":2.15,"l":2.02,"h":2.28},{"r":"a","d":"2020-11-12","v":1.96,"l":1.83,"h":2.1},{"r":"a","d":"2020-11-19","v":1.72,"l":1.6,"h":1.85},{"r":"a","d":"2020-11-25","v":1.51,"l":1.39,"h":1.64},{"r":"a","d":"2020-12-02","v":1.28,"l":1.16,"h":1.4},{"r":"a","d":"2020-12-09","v":1.12,"l":1.0,"h":1.24},{"r":"a","d":"2020-12-15","v":0.79,"l":0.66,"h":0.92},{"r":"a","d":"2020-12-30","v":2.08,"l":1.9,"h":2.3},{"r":"a","d":"2021-01-13","v":2.06,"l":1.9,"h":2.25},{"r":"a","d":"2021-01-20","v":2.22,"l":2.05,"h":2.4},{"r":"a","d":"2021-01-27","v":1.72,"l":1.55,"h":1.9},
{"r":"b","d":"2020-06-18","v":0.05,"l":0.02,"h":0.09},{"r":"b","d":"2020-06-25","v":0.05,"l":0.02,"h":0.09},{"r":"b","d":"2020-07-02","v":0.05,"l":0.02,"h":0.09},{"r":"b","d":"2020-07-09","v":0.05,"l":0.02,"h":0.09},{"r":"b","d":"2020-07-16","v":0.05,"l":0.02,"h":0.09},{"r":"b","d":"2020-07-23","v":0.05,"l":0.02,"h":0.09},{"r":"b","d":"2020-07-30","v":0.05,"l":0.02,"h":0.09},{"r":"b","d":"2020-08-06","v":0.05,"l":0.02,"h":0.09},{"r":"b","d":"2020-08-10","v":0.05,"l":0.02,"h":0.09},{"r":"b","d":"2020-08-17","v":0.05,"l":0.02,"h":0.09},{"r":"b","d":"2020-08-24","v":0.05,"l":0.02,"h":0.09},
{"r":"b","d":"2020-09-02","v":0.06,"l":0.02,"h":0.1},{"r":"b","d":"2020-09-07","v":0.1,"l":0.05,"h":0.15},{"r":"b","d":"2020-09-16","v":0.27,"l":0.2,"h":0.35},{"r":"b","d":"2020-09-21","v":0.3,"l":0.22,"h":0.38},{"r":"b","d":"2020-09-28","v":0.85,"l":0.74,"h":0.97},{"r":"b","d":"2020-10-05","v":1.1,"l":0.98,"h":1.23},{"r":"b","d":"2020-10-13","v":1.35,"l":1.22,"h":1.49},{"r":"b","d":"2020-10-20","v":1.87,"l":1.72,"h":2.03},{"r":"b","d":"2020-10-28","v":2.15,"l":2.0,"h":2.32},{"r":"b","d":"2020-11-03","v":2.12,"l":1.97,"h":2.28},{"r":"b","d":"2020-11-12","v":1.87,"l":1.72,"h":2.02},{"r":"b","d":"2020-11-19","v":1.85,"l":1.7,"h":2.0},{"r":"b","d":"2020-11-25","v":1.68,"l":1.53,"h":1.83},{"r":"b","d":"2020-12-02","v":1.12,"l":0.99,"h":1.26},{"r":"b","d":"2020-12-09","v":1.06,"l":0.93,"h":1.2},{"r":"b","d":"2020-12-15","v":0.93,"l":0.8,"h":1.07},{"r":"b","d":"2020-12-30","v":1.45,"l":1.28,"h":1.63},{"r":"b","d":"2021-01-13","v":1.12,"l":0.98,"h":1.28},{"r":"b","d":"2021-01-20","v":1.12,"l":0.98,"h":1.27},{"r":"b","d":"2021-01-27","v":1.1,"l":0.96,"h":1.25},
{"r":"c","d":"2020-06-18","v":0.05,"l":0.01,"h":0.1},{"r":"c","d":"2020-06-25","v":0.05,"l":0.01,"h":0.1},{"r":"c","d":"2020-07-02","v":0.05,"l":0.01,"h":0.1},{"r":"c","d":"2020-07-09","v":0.05,"l":0.01,"h":0.1},{"r":"c","d":"2020-07-16","v":0.05,"l":0.01,"h":0.1},{"r":"c","d":"2020-07-23","v":0.05,"l":0.01,"h":0.1},{"r":"c","d":"2020-07-30","v":0.05,"l":0.01,"h":0.1},{"r":"c","d":"2020-08-06","v":0.05,"l":0.01,"h":0.1},{"r":"c","d":"2020-08-10","v":0.05,"l":0.01,"h":0.1},{"r":"c","d":"2020-08-17","v":0.05,"l":0.01,"h":0.1},{"r":"c","d":"2020-08-24","v":0.05,"l":0.01,"h":0.1},
{"r":"c","d":"2020-09-02","v":0.1,"l":0.04,"h":0.17},{"r":"c","d":"2020-09-07","v":0.15,"l":0.07,"h":0.23},{"r":"c","d":"2020-09-16","v":0.23,"l":0.13,"h":0.34},{"r":"c","d":"2020-09-21","v":0.49,"l":0.35,"h":0.63},{"r":"c","d":"2020-09-28","v":0.98,"l":0.8,"h":1.17},{"r":"c","d":"2020-10-05","v":1.1,"l":0.92,"h":1.3},{"r":"c","d":"2020-10-13","v":1.21,"l":1.02,"h":1.41},{"r":"c","d":"2020-10-20","v":1.2,"l":1.01,"h":1.4},{"r":"c","d":"2020-10-28","v":1.24,"l":1.05,"h":1.45},{"r":"c","d":"2020-11-03","v":1.42,"l":1.22,"h":1.63},{"r":"c","d":"2020-11-12","v":1.32,"l":1.12,"h":1.53},{"r":"c","d":"2020-11-19","v":1.63,"l":1.4,"h":1.86},{"r":"c","d":"2020-11-25","v":1.59,"l":1.36,"h":1.82},{"r":"c","d":"2020-12-02","v":1.12,"l":0.92,"h":1.33},{"r":"c","d":"2020-12-09","v":1.16,"l":0.95,"h":1.38},{"r":"c","d":"2020-12-15","v":1.0,"l":0.8,"h":1.22},{"r":"c","d":"2020-12-30","v":1.63,"l":1.35,"h":1.93},{"r":"c","d":"2021-01-13","v":2.43,"l":2.05,"h":2.85},{"r":"c","d":"2021-01-20","v":1.92,"l":1.58,"h":2.28},{"r":"c","d":"2021-01-27","v":1.21,"l":0.95,"h":1.5},
{"r":"e","d":"2020-06-18","v":0.05,"l":0.02,"h":0.09},{"r":"e","d":"2020-06-25","v":0.05,"l":0.02,"h":0.09},{"r":"e","d":"2020-07-02","v":0.05,"l":0.02,"h":0.09},{"r":"e","d":"2020-07-09","v":0.05,"l":0.02,"h":0.09},{"r":"e","d":"2020-07-16","v":0.05,"l":0.02,"h":0.09},{"r":"e","d":"2020-07-23","v":0.05,"l":0.02,"h":0.09},{"r":"e","d":"2020-07-30","v":0.05,"l":0.02,"h":0.09},{"r":"e","d":"2020-08-06","v":0.05,"l":0.02,"h":0.09},{"r":"e","d":"2020-08-10","v":0.05,"l":0.02,"h":0.09},{"r":"e","d":"2020-08-17","v":0.05,"l":0.02,"h":0.09},{"r":"e","d":"2020-08-24","v":0.05,"l":0.02,"h":0.09},
{"r":"e","d":"2020-09-02","v":0.07,"l":0.03,"h":0.11},{"r":"e","d":"2020-09-07","v":0.08,"l":0.04,"h":0.13},{"r":"e","d":"2020-09-16","v":0.13,"l":0.07,"h":0.19},{"r":"e","d":"2020-09-21","v":0.16,"l":0.1,"h":0.23},{"r":"e","d":"2020-09-28","v":0.27,"l":0.19,"h":0.36},{"r":"e","d":"2020-10-05","v":0.57,"l":0.46,"h":0.68},{"r":"e","d":"2020-10-13","v":0.74,"l":0.62,"h":0.86},{"r":"e","d":"2020-10-20","v":0.98,"l":0.85,"h":1.12},{"r":"e","d":"2020-10-28","v":1.21,"l":1.07,"h":1.36},{"r":"e","d":"2020-11-03","v":1.3,"l":1.15,"h":1.45},{"r":"e","d":"2020-11-12","v":1.45,"l":1.3,"h":1.6},{"r":"e","d":"2020-11-19","v":1.4,"l":1.25,"h":1.55},{"r":"e","d":"2020-11-25","v":1.07,"l":0.93,"h":1.22},{"r":"e","d":"2020-12-02","v":0.99,"l":0.86,"h":1.13},{"r":"e","d":"2020-12-09","v":1.02,"l":0.88,"h":1.16},{"r":"e","d":"2020-12-15","v":0.96,"l":0.35,"h":1.12},{"r":"e","d":"2020-12-30","v":1.54,"l":1.35,"h":1.75},{"r":"e","d":"2021-01-13","v":1.92,"l":1.72,"h":2.13},{"r":"e","d":"2021-01-20","v":1.7,"l":1.52,"h":1.9},{"r":"e","d":"2021-01-27","v":1.82,"l":1.63,"h":2.02},
{"r":"f","d":"2020-06-18","v":0.2,"l":0.12,"h":0.28},{"r":"f","d":"2020-06-25","v":0.14,"l":0.08,"h":0.2},{"r":"f","d":"2020-07-02","v":0.05,"l":0.02,"h":0.09},{"r":"f","d":"2020-07-09","v":0.05,"l":0.02,"h":0.09},{"r":"f","d":"2020-07-16","v":0.05,"l":0.02,"h":0.09},{"r":"f","d":"2020-07-23","v":0.05,"l":0.02,"h":0.09},{"r":"f","d":"2020-07-30","v":0.05,"l":0.02,"h":0.09},{"r":"f","d":"2020-08-06","v":0.05,"l":0.02,"h":0.09},{"r":"f","d":"2020-08-10","v":0.05,"l":0.02,"h":0.09},{"r":"f","d":"2020-08-17","v":0.05,"l":0.02,"h":0.09},{"r":"f","d":"2020-08-24","v":0.05,"l":0.02,"h":0.09},
{"r":"f","d":"2020-09-02","v":0.06,"l":0.02,"h":0.1},{"r":"f","d":"2020-09-07","v":0.15,"l":0.09,"h":0.21},{"r":"f","d":"2020-09-16","v":0.18,"l":0.11,"h":0.25},{"r":"f","d":"2020-09-21","v":0.21,"l":0.14,"h":0.29},{"r":"f","d":"2020-09-28","v":0.32,"l":0.23,"h":0.41},{"r":"f","d":"2020-10-05","v":0.54,"l":0.43,"h":0.66},{"r":"f","d":"2020-10-13","v":0.74,"l":0.61,"h":0.87},{"r":"f","d":"2020-10-20","v":1.02,"l":0.88,"h":1.17},{"r":"f","d":"2020-10-28","v":1.19,"l":1.04,"h":1.35},{"r":"f","d":"2020-11-03","v":1.42,"l":1.26,"h":1.59},{"r":"f","d":"2020-11-12","v":1.12,"l":0.97,"h":1.28},{"r":"f","d":"2020-11-19","v":1.43,"l":1.27,"h":1.6},{"r":"f","d":"2020-11-25","v":1.16,"l":1.01,"h":1.32},{"r":"f","d":"2020-12-02","v":0.95,"l":0.81,"h":1.1},{"r":"f","d":"2020-12-09","v":1.4,"l":1.23,"h":1.58},{"r":"f","d":"2020-12-15","v":1.02,"l":0.87,"h":1.18},{"r":"f","d":"2020-12-30","v":1.92,"l":1.7,"h":2.2},{"r":"f","d":"2021-01-13","v":1.63,"l":1.44,"h":1.84},{"r":"f","d":"2021-01-20","v":1.42,"l":1.25,"h":1.6},{"r":"f","d":"2021-01-27","v":1.45,"l":1.27,"h":1.64},
{"r":"g","d":"2020-06-18","v":0.06,"l":0.02,"h":0.1},{"r":"g","d":"2020-06-25","v":0.12,"l":0.07,"h":0.17},{"r":"g","d":"2020-07-02","v":0.05,"l":0.02,"h":0.08},{"r":"g","d":"2020-07-09","v":0.05,"l":0.02,"h":0.08},{"r":"g","d":"2020-07-16","v":0.05,"l":0.02,"h":0.08},{"r":"g","d":"2020-07-23","v":0.05,"l":0.02,"h":0.08},{"r":"g","d":"2020-07-30","v":0.05,"l":0.02,"h":0.08},{"r":"g","d":"2020-08-06","v":0.05,"l":0.02,"h":0.08},{"r":"g","d":"2020-08-10","v":0.05,"l":0.02,"h":0.08},{"r":"g","d":"2020-08-17","v":0.05,"l":0.02,"h":0.08},{"r":"g","d":"2020-08-24","v":0.05,"l":0.02,"h":0.08},
{"r":"g","d":"2020-09-02","v":0.07,"l":0.03,"h":0.11},{"r":"g","d":"2020-09-07","v":0.08,"l":0.04,"h":0.12},{"r":"g","d":"2020-09-16","v":0.1,"l":0.05,"h":0.15},{"r":"g","d":"2020-09-21","v":0.12,"l":0.07,"h":0.18},{"r":"g","d":"2020-09-28","v":0.2,"l":0.13,"h":0.27},{"r":"g","d":"2020-10-05","v":0.32,"l":0.24,"h":0.4},{"r":"g","d":"2020-10-13","v":0.41,"l":0.32,"h":0.5},{"r":"g","d":"2020-10-20","v":0.49,"l":0.4,"h":0.59},{"r":"g","d":"2020-10-28","v":0.6,"l":0.5,"h":0.71},{"r":"g","d":"2020-11-03","v":0.53,"l":0.43,"h":0.64},{"r":"g","d":"2020-11-12","v":0.74,"l":0.63,"h":0.86},{"r":"g","d":"2020-11-19","v":0.57,"l":0.47,"h":0.68},{"r":"g","d":"2020-11-25","v":0.37,"l":0.28,"h":0.47},{"r":"g","d":"2020-12-02","v":0.53,"l":0.43,"h":0.64},{"r":"g","d":"2020-12-09","v":0.84,"l":0.72,"h":0.97},{"r":"g","d":"2020-12-15","v":1.16,"l":1.02,"h":1.31},{"r":"g","d":"2020-12-30","v":2.1,"l":1.88,"h":2.33},{"r":"g","d":"2021-01-13","v":1.35,"l":1.18,"h":1.53},{"r":"g","d":"2021-01-20","v":1.68,"l":1.5,"h":1.87},{"r":"g","d":"2021-01-27","v":1.76,"l":1.57,"h":1.96},
{"r":"h","d":"2020-06-18","v":0.05,"l":0.02,"h":0.08},{"r":"h","d":"2020-06-25","v":0.05,"l":0.02,"h":0.08},{"r":"h","d":"2020-07-02","v":0.05,"l":0.02,"h":0.08},{"r":"h","d":"2020-07-09","v":0.05,"l":0.02,"h":0.08},{"r":"h","d":"2020-07-16","v":0.05,"l":0.02,"h":0.08},{"r":"h","d":"2020-07-23","v":0.05,"l":0.02,"h":0.08},{"r":"h","d":"2020-07-30","v":0.05,"l":0.02,"h":0.08},{"r":"h","d":"2020-08-06","v":0.05,"l":0.02,"h":0.08},{"r":"h","d":"2020-08-10","v":0.05,"l":0.02,"h":0.08},{"r":"h","d":"2020-08-17","v":0.05,"l":0.02,"h":0.08},{"r":"h","d":"2020-08-24","v":0.05,"l":0.02,"h":0.08},
{"r":"h","d":"2020-09-02","v":0.06,"l":0.02,"h":0.1},{"r":"h","d":"2020-09-07","v":0.06,"l":0.02,"h":0.1},{"r":"h","d":"2020-09-16","v":0.07,"l":0.03,"h":0.11},{"r":"h","d":"2020-09-21","v":0.08,"l":0.04,"h":0.13},{"r":"h","d":"2020-09-28","v":0.22,"l":0.15,"h":0.3},{"r":"h","d":"2020-10-05","v":0.34,"l":0.25,"h":0.43},{"r":"h","d":"2020-10-13","v":0.29,"l":0.21,"h":0.38},{"r":"h","d":"2020-10-20","v":0.46,"l":0.36,"h":0.56},{"r":"h","d":"2020-10-28","v":0.57,"l":0.46,"h":0.68},{"r":"h","d":"2020-11-03","v":0.76,"l":0.64,"h":0.88},{"r":"h","d":"2020-11-12","v":0.67,"l":0.56,"h":0.79},{"r":"h","d":"2020-11-19","v":0.65,"l":0.54,"h":0.77},{"r":"h","d":"2020-11-25","v":0.43,"l":0.34,"h":0.53},{"r":"h","d":"2020-12-02","v":0.4,"l":0.31,"h":0.5},{"r":"h","d":"2020-12-09","v":0.41,"l":0.32,"h":0.51},{"r":"h","d":"2020-12-15","v":0.51,"l":0.4,"h":0.62},{"r":"h","d":"2020-12-30","v":0.7,"l":0.57,"h":0.84},{"r":"h","d":"2021-01-13","v":1.14,"l":0.97,"h":1.32},{"r":"h","d":"2021-01-20","v":1.37,"l":1.18,"h":1.57},{"r":"h","d":"2021-01-27","v":0.99,"l":0.83,"h":1.16},
{"r":"i","d":"2020-06-18","v":0.15,"l":0.09,"h":0.22},{"r":"i","d":"2020-06-25","v":0.15,"l":0.09,"h":0.22},{"r":"i","d":"2020-07-02","v":0.13,"l":0.07,"h":0.19},{"r":"i","d":"2020-07-09","v":0.12,"l":0.07,"h":0.18},{"r":"i","d":"2020-07-16","v":0.13,"l":0.07,"h":0.19},{"r":"i","d":"2020-07-23","v":0.13,"l":0.07,"h":0.19},{"r":"i","d":"2020-07-30","v":0.1,"l":0.05,"h":0.15},{"r":"i","d":"2020-08-06","v":0.1,"l":0.05,"h":0.15},{"r":"i","d":"2020-08-10","v":0.08,"l":0.04,"h":0.13},{"r":"i","d":"2020-08-17","v":0.08,"l":0.04,"h":0.13},{"r":"i","d":"2020-08-24","v":0.08,"l":0.04,"h":0.13},
{"r":"i","d":"2020-09-02","v":0.17,"l":0.1,"h":0.24},{"r":"i","d":"2020-09-07","v":0.17,"l":0.1,"h":0.24},{"r":"i","d":"2020-09-16","v":0.24,"l":0.16,"h":0.32},{"r":"i","d":"2020-09-21","v":0.26,"l":0.18,"h":0.34},{"r":"i","d":"2020-09-28","v":0.29,"l":0.21,"h":0.38},{"r":"i","d":"2020-10-05","v":0.43,"l":0.33,"h":0.53},{"r":"i","d":"2020-10-13","v":0.57,"l":0.46,"h":0.68},{"r":"i","d":"2020-10-20","v":0.76,"l":0.64,"h":0.88},{"r":"i","d":"2020-10-28","v":0.79,"l":0.67,"h":0.92},{"r":"i","d":"2020-11-03","v":0.74,"l":0.62,"h":0.87},{"r":"i","d":"2020-11-12","v":1.01,"l":0.87,"h":1.15},{"r":"i","d":"2020-11-19","v":0.83,"l":0.7,"h":0.96},{"r":"i","d":"2020-11-25","v":0.62,"l":0.51,"h":0.74},{"r":"i","d":"2020-12-02","v":0.95,"l":0.82,"h":1.09},{"r":"i","d":"2020-12-09","v":1.37,"l":1.21,"h":1.54},{"r":"i","d":"2020-12-15","v":2.08,"l":1.88,"h":2.29},{"r":"i","d":"2020-12-30","v":3.46,"l":3.2,"h":3.75},{"r":"i","d":"2021-01-13","v":2.8,"l":2.58,"h":3.03},{"r":"i","d":"2021-01-20","v":2.64,"l":2.42,"h":2.87},{"r":"i","d":"2021-01-27","v":2.03,"l":1.84,"h":2.23},
{"r":"j","d":"2020-06-18","v":0.05,"l":0.02,"h":0.08},{"r":"j","d":"2020-06-25","v":0.05,"l":0.02,"h":0.08},{"r":"j","d":"2020-07-02","v":0.05,"l":0.02,"h":0.08},{"r":"j","d":"2020-07-09","v":0.05,"l":0.02,"h":0.08},{"r":"j","d":"2020-07-16","v":0.05,"l":0.02,"h":0.08},{"r":"j","d":"2020-07-23","v":0.05,"l":0.02,"h":0.08},{"r":"j","d":"2020-07-30","v":0.05,"l":0.02,"h":0.08},{"r":"j","d":"2020-08-06","v":0.05,"l":0.02,"h":0.08},{"r":"j","d":"2020-08-10","v":0.05,"l":0.02,"h":0.08},{"r":"j","d":"2020-08-17","v":0.05,"l":0.02,"h":0.08},{"r":"j","d":"2020-08-24","v":0.05,"l":0.02,"h":0.08},
{"r":"j","d":"2020-09-02","v":0.06,"l":0.03,"h":0.1},{"r":"j","d":"2020-09-07","v":0.07,"l":0.03,"h":0.11},{"r":"j","d":"2020-09-16","v":0.07,"l":0.03,"h":0.11},{"r":"j","d":"2020-09-21","v":0.08,"l":0.04,"h":0.12},{"r":"j","d":"2020-09-28","v":0.1,"l":0.05,"h":0.15},{"r":"j","d":"2020-10-05","v":0.24,"l":0.17,"h":0.31},{"r":"j","d":"2020-10-13","v":0.38,"l":0.3,"h":0.46},{"r":"j","d":"2020-10-20","v":0.46,"l":0.37,"h":0.55},{"r":"j","d":"2020-10-28","v":0.46,"l":0.37,"h":0.55},{"r":"j","d":"2020-11-03","v":0.67,"l":0.57,"h":0.78},{"r":"j","d":"2020-11-12","v":0.86,"l":0.75,"h":0.98},{"r":"j","d":"2020-11-19","v":0.74,"l":0.63,"h":0.85},{"r":"j","d":"2020-11-25","v":0.62,"l":0.52,"h":0.73},{"r":"j","d":"2020-12-02","v":0.62,"l":0.52,"h":0.73},{"r":"j","d":"2020-12-09","v":0.81,"l":0.7,"h":0.93},{"r":"j","d":"2020-12-15","v":1.32,"l":1.17,"h":1.48},{"r":"j","d":"2020-12-30","v":2.08,"l":1.88,"h":2.3},{"r":"j","d":"2021-01-13","v":1.72,"l":1.54,"h":1.91},{"r":"j","d":"2021-01-20","v":1.7,"l":1.52,"h":1.89},{"r":"j","d":"2021-01-27","v":1.18,"l":1.03,"h":1.34}
]},
"vconcat":[
{"spacing":0,"hconcat":[
{"data":{"values":[{}]},"width":1,"height":1,"view":{"stroke":null},"mark":{"type":"point","opacity":0,"size":0,"strokeWidth":0},"encoding":{}},
{"data":{"name":"cases"},
"title":{"text":"Thousands of cases","orient":"left","anchor":"middle","frame":"bounds","offset":10,"dx":34},
"transform":[{"fold":["a","b","c","e","f","g","h","i","j"],"as":["code","v"]},{"lookup":"code","from":{"data":{"name":"names"},"key":"code","fields":["name"]}}],
"columns":3,"spacing":{"row":0,"column":0},"bounds":"flush",
"facet":{"field":"name","type":"nominal","sort":["North West","Yorkshire and The Humber","North East","West Midlands","East Midlands","East of England","South West","London","South East"],"header":{"title":null,"labelExpr":"''","labelPadding":0,"labelFontSize":0}},
"spec":{"width":365,"height":177.5,"layer":[
{"mark":{"type":"bar","color":"black","binSpacing":0,"stroke":"black","strokeWidth":0.4},
"encoding":{"x":{"field":"d","type":"temporal","timeUnit":"utcyearmonthdate","scale":{"type":"utc","domain":[{"year":2020,"month":5,"date":30,"utc":true},{"year":2021,"month":2,"date":6,"hours":12,"utc":true}]},"axis":{"title":null,"format":"%b","values":[{"year":2020,"month":7,"date":1,"utc":true},{"year":2020,"month":8,"date":1,"utc":true},{"year":2020,"month":9,"date":1,"utc":true},{"year":2020,"month":10,"date":1,"utc":true},{"year":2020,"month":11,"date":1,"utc":true},{"year":2020,"month":12,"date":1,"utc":true},{"year":2021,"month":1,"date":1,"utc":true}]}},
"y":{"field":"v","type":"quantitative","scale":{"domain":[0,17.9],"nice":false},"axis":{"values":[0,5,10,15],"title":null}}}},
{"transform":[{"aggregate":[{"op":"count","as":"n"}],"groupby":["name"]}],
"mark":{"type":"text","align":"left","baseline":"alphabetic","fontSize":24,"color":"black"},
"encoding":{"x":{"datum":{"year":2020,"month":6,"date":9,"hours":10,"utc":true},"type":"temporal"},"y":{"datum":11.8,"type":"quantitative"},"text":{"field":"name"}}}
]}}]},
{"spacing":0,"hconcat":[
{"data":{"values":[{}]},"width":1,"height":1,"view":{"stroke":null},"mark":{"type":"point","opacity":0,"size":0,"strokeWidth":0},"encoding":{}},
{"data":{"name":"pos"},
"title":{"text":"Percentage of people","orient":"left","anchor":"middle","frame":"bounds","offset":10,"dx":34},
"transform":[{"lookup":"r","from":{"data":{"name":"names"},"key":"code","fields":["name"]}}],
"columns":3,"spacing":{"row":0,"column":0},"bounds":"flush",
"facet":{"field":"name","type":"nominal","sort":["North West","Yorkshire and The Humber","North East","West Midlands","East Midlands","East of England","South West","London","South East"],"header":{"title":null,"labelExpr":"''","labelPadding":0,"labelFontSize":0}},
"spec":{"width":369,"height":180,"layer":[
{"mark":{"type":"area","color":"#e6e6e6","opacity":1},
"encoding":{"x":{"field":"d","type":"temporal","scale":{"type":"utc","domain":[{"year":2020,"month":5,"date":30,"utc":true},{"year":2021,"month":2,"date":6,"hours":12,"utc":true}]},"axis":{"title":null,"format":"%b","values":[{"year":2020,"month":7,"date":1,"utc":true},{"year":2020,"month":8,"date":1,"utc":true},{"year":2020,"month":9,"date":1,"utc":true},{"year":2020,"month":10,"date":1,"utc":true},{"year":2020,"month":11,"date":1,"utc":true},{"year":2020,"month":12,"date":1,"utc":true},{"year":2021,"month":1,"date":1,"utc":true}]}},
"y":{"field":"l","type":"quantitative","scale":{"domain":[0,5.07],"nice":false},"axis":{"values":[0,1,2,3,4],"title":null}},"y2":{"field":"h"}}},
{"mark":{"type":"point","shape":"triangle-up","filled":true,"color":"black","opacity":1,"size":60},
"encoding":{"x":{"field":"d","type":"temporal"},"y":{"field":"v","type":"quantitative"}}},
{"transform":[{"aggregate":[{"op":"count","as":"n"}],"groupby":["name"]}],
"mark":{"type":"text","align":"left","baseline":"alphabetic","fontSize":24,"color":"black"},
"encoding":{"x":{"datum":{"year":2020,"month":6,"date":9,"hours":10,"utc":true},"type":"temporal"},"y":{"datum":3.89,"type":"quantitative"},"text":{"field":"name"}}}
]}}]}
]
}
